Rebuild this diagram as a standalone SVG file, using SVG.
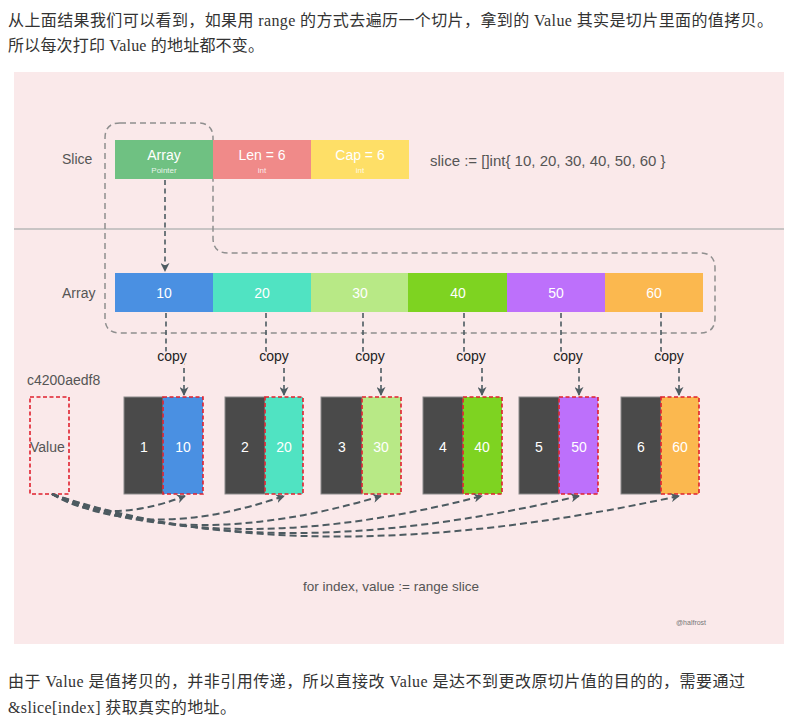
<svg xmlns="http://www.w3.org/2000/svg" width="800" height="727" viewBox="0 0 800 727">
<defs>
<style>
.para{font-family:"Liberation Serif","Noto Sans CJK SC",serif;font-size:16px;fill:#333}
.lbl{font-family:"Liberation Sans","Noto Sans",sans-serif;font-size:14px;fill:#555}
.wt{font-family:"Liberation Sans","Noto Sans",sans-serif;font-size:14px;fill:#fff;text-anchor:middle}
.sm{font-family:"Liberation Sans","Noto Sans",sans-serif;font-size:8px;fill:#fff;fill-opacity:0.85;text-anchor:middle}
.copy{font-family:"Liberation Sans","Noto Sans",sans-serif;font-size:14px;fill:#222;text-anchor:middle;stroke:#fae9ea;stroke-width:4;paint-order:stroke}
.dk{fill:#4a4a4a;stroke:#8a8a8a;stroke-width:1}
.rd{stroke:#e0202e;stroke-width:1.6;stroke-dasharray:4 2.5}
.conn{fill:none;stroke:#4d5b61;stroke-width:1.6;stroke-dasharray:5 3.5}
.curve{fill:none;stroke:#4d5b61;stroke-width:2;stroke-dasharray:7 4}
</style>
<marker id="ah" viewBox="0 0 10 10" refX="9" refY="5" markerWidth="9" markerHeight="9" markerUnits="userSpaceOnUse" orient="auto">
<path d="M0,0 L10,5 L0,10 L3,5 z" fill="#4d5b61"/>
</marker>
</defs>
<rect width="800" height="727" fill="#fff"/>
<text class="para" x="8" y="26" textLength="765" lengthAdjust="spacing">从上面结果我们可以看到，如果用 range 的方式去遍历一个切片，拿到的 Value 其实是切片里面的值拷贝。</text>
<text class="para" x="8" y="51" textLength="256" lengthAdjust="spacing">所以每次打印 Value 的地址都不变。</text>
<text class="para" x="8" y="687" textLength="737" lengthAdjust="spacing">由于 Value 是值拷贝的，并非引用传递，所以直接改 Value 是达不到更改原切片值的目的的，需要通过</text>
<text class="para" x="8" y="713" textLength="228" lengthAdjust="spacing">&amp;slice[index] 获取真实的地址。</text>

<rect x="14" y="72" width="770" height="572" fill="#fae9ea"/>
<line x1="14" y1="229" x2="784" y2="229" stroke="#c8c4c4" stroke-width="2"/>
<path d="M120,123 H198 Q213,123 213,138 V238 Q213,253 228,253 H700 Q715,253 715,268 V318 Q715,333 700,333 H120 Q105,333 105,318 V138 Q105,123 120,123 Z" fill="none" stroke="#8f8f8f" stroke-width="1.5" stroke-dasharray="6 4"/>

<g id="slice">
<text class="lbl" x="62" y="164">Slice</text>
<rect x="115" y="140" width="98" height="39" fill="#6fc182"/>
<text class="wt" x="164" y="160">Array</text>
<text class="sm" x="164" y="173">Pointer</text>
<rect x="213" y="140" width="98" height="39" fill="#f08a89"/>
<text class="wt" x="262" y="160">Len = 6</text>
<text class="sm" x="262" y="173">int</text>
<rect x="311" y="140" width="98" height="39" fill="#fedf67"/>
<text class="wt" x="360" y="160">Cap = 6</text>
<text class="sm" x="360" y="173">int</text>
<text class="lbl" x="430" y="166" style="font-size:15px">slice := []int{ 10, 20, 30, 40, 50, 60 }</text>
</g>

<g id="array">
<text class="lbl" x="62" y="298">Array</text>
<rect x="115" y="273" width="98" height="39" fill="#4a90e2"/>
<rect x="213" y="273" width="98" height="39" fill="#50e3c2"/>
<rect x="311" y="273" width="98" height="39" fill="#b8e986"/>
<rect x="408" y="273" width="99" height="39" fill="#7ed321"/>
<rect x="507" y="273" width="98" height="39" fill="#bd70fb"/>
<rect x="605" y="273" width="98" height="39" fill="#fbb84f"/>
<text class="wt" x="164" y="298">10</text>
<text class="wt" x="262" y="298">20</text>
<text class="wt" x="360" y="298">30</text>
<text class="wt" x="458" y="298">40</text>
<text class="wt" x="556" y="298">50</text>
<text class="wt" x="654" y="298">60</text>
</g>

<g id="value">
<text class="lbl" x="27" y="385">c4200aedf8</text>
<rect class="rd" x="30" y="397" width="39" height="97" fill="none"/>
<text class="lbl" x="30" y="452">Value</text>
</g>

<g id="item1">
<rect class="dk" x="124" y="397" width="39" height="97"/>
<rect class="rd" x="163" y="397" width="40" height="97" fill="#4a90e2"/>
<text class="wt" x="144" y="452">1</text><text class="wt" x="183" y="452">10</text>
</g>
<g id="item2">
<rect class="dk" x="225" y="397" width="40" height="97"/>
<rect class="rd" x="265" y="397" width="38" height="97" fill="#50e3c2"/>
<text class="wt" x="245" y="452">2</text><text class="wt" x="284" y="452">20</text>
</g>
<g id="item3">
<rect class="dk" x="321" y="397" width="41" height="97"/>
<rect class="rd" x="362" y="397" width="39" height="97" fill="#b8e986"/>
<text class="wt" x="342" y="452">3</text><text class="wt" x="381" y="452">30</text>
</g>
<g id="item4">
<rect class="dk" x="423" y="397" width="40" height="97"/>
<rect class="rd" x="463" y="397" width="39" height="97" fill="#7ed321"/>
<text class="wt" x="443" y="452">4</text><text class="wt" x="482" y="452">40</text>
</g>
<g id="item5">
<rect class="dk" x="519" y="397" width="40" height="97"/>
<rect class="rd" x="559" y="397" width="39" height="97" fill="#bd70fb"/>
<text class="wt" x="539" y="452">5</text><text class="wt" x="579" y="452">50</text>
</g>
<g id="item6">
<rect class="dk" x="621" y="397" width="40" height="97"/>
<rect class="rd" x="661" y="397" width="38" height="97" fill="#fbb84f"/>
<text class="wt" x="641" y="452">6</text><text class="wt" x="680" y="452">60</text>
</g>

<g id="connectors">
<path class="conn" d="M165,180 V271" marker-end="url(#ah)"/>
<path class="conn" d="M166,313 V350 Q166,356 172,356 H178 Q184,356 184,362 V395" marker-end="url(#ah)"/>
<path class="conn" d="M266,313 V350 Q266,356 272,356 H278 Q284,356 284,362 V395" marker-end="url(#ah)"/>
<path class="conn" d="M363,313 V350 Q363,356 369,356 H375 Q381,356 381,362 V395" marker-end="url(#ah)"/>
<path class="conn" d="M464,313 V350 Q464,356 470,356 H476 Q482,356 482,362 V395" marker-end="url(#ah)"/>
<path class="conn" d="M561,313 V350 Q561,356 567,356 H573 Q579,356 579,362 V395" marker-end="url(#ah)"/>
<path class="conn" d="M661,313 V350 Q661,356 667,356 H673 Q679,356 679,362 V395" marker-end="url(#ah)"/>
<text class="copy" x="172" y="361">copy</text>
<text class="copy" x="274" y="361">copy</text>
<text class="copy" x="370" y="361">copy</text>
<text class="copy" x="471" y="361">copy</text>
<text class="copy" x="568" y="361">copy</text>
<text class="copy" x="669" y="361">copy</text>
<path class="curve" d="M52,494 Q105,527 185,496" marker-end="url(#ah)"/>
<path class="curve" d="M52,494 Q145,544 284,496" marker-end="url(#ah)"/>
<path class="curve" d="M52,494 Q184,555 381,496" marker-end="url(#ah)"/>
<path class="curve" d="M52,494 Q224,563 482,496" marker-end="url(#ah)"/>
<path class="curve" d="M52,494 Q263,571 579,496" marker-end="url(#ah)"/>
<path class="curve" d="M52,494 Q303,578 679,496" marker-end="url(#ah)"/>
</g>

<text class="lbl" x="303" y="591" style="font-size:13.5px">for index, value := range slice</text>
<text x="676" y="625" font-family="Liberation Sans, sans-serif" font-size="7" fill="#777">@halfrost</text>
</svg>
